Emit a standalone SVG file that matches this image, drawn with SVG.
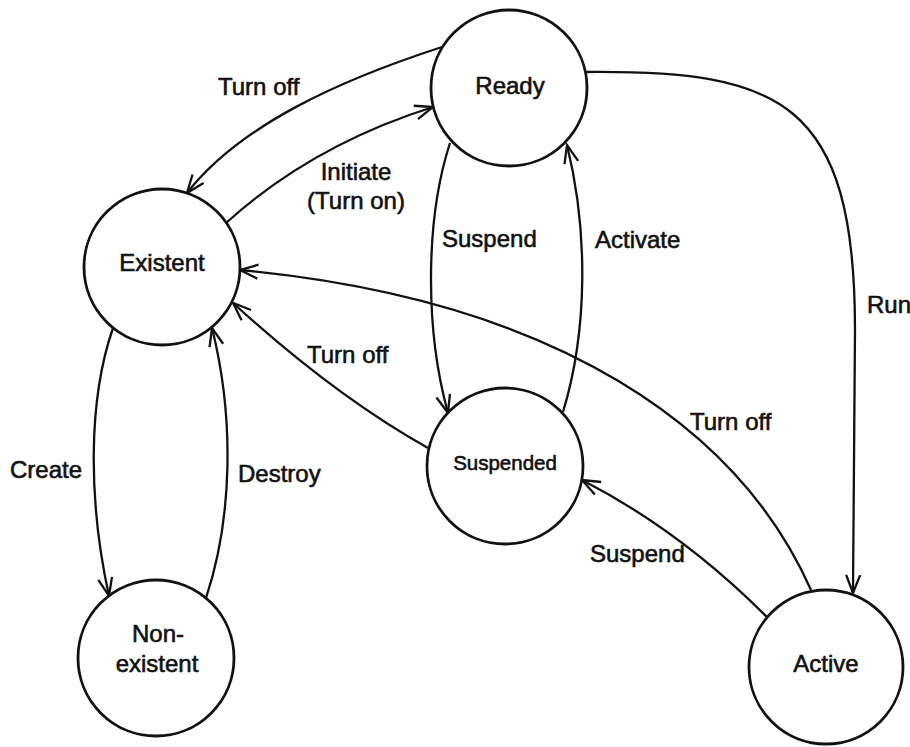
<svg xmlns="http://www.w3.org/2000/svg" width="910" height="747" viewBox="0 0 910 747">
<style>
  .node circle { fill: #fff; stroke: #111; stroke-width: 2.8; }
  .lbl { font-family: "Liberation Sans", Arial, sans-serif; font-size: 24px; fill: #111; stroke: #111; stroke-width: 0.6; }
  .mid { text-anchor: middle; }
  .edge { fill: none; stroke: #111; stroke-width: 2.3; marker-end: url(#arr); }
</style>
<defs>
  <marker id="arr" markerUnits="userSpaceOnUse" markerWidth="22" markerHeight="18" viewBox="0 0 22 18" refX="20" refY="9" orient="auto">
    <path d="M2,2 L20,9 L2,16" fill="none" stroke="#111" stroke-width="2.3"/>
  </marker>
</defs>
<rect width="910" height="747" fill="#fff"/>
<g id="connectors">
  <path class="edge" d="M442,47 C340,80 240,125 187,193"/>
  <path class="edge" d="M226,223 C290,165 360,130 433,107"/>
  <path class="edge" d="M450,143 C425,220 425,330 448,413"/>
  <path class="edge" d="M563,412 C588,330 588,230 567,145"/>
  <path class="edge" d="M585,72 C780,70 855,100 855,330 L853,593"/>
  <path class="edge" d="M811,590 C740,430 560,300 240,270"/>
  <path class="edge" d="M428,448 C360,410 290,355 233,303"/>
  <path class="edge" d="M113,328 C88,400 88,500 109,596"/>
  <path class="edge" d="M206,598 C232,520 235,420 212,328"/>
  <path class="edge" d="M767,617 C720,570 660,520 582,480"/>
</g>
<g id="edge-labels">
  <text class="lbl" x="218" y="95">Turn off</text>
  <text class="lbl mid" x="356" y="180">Initiate</text>
  <text class="lbl mid" x="356" y="209">(Turn on)</text>
  <text class="lbl" x="442" y="247">Suspend</text>
  <text class="lbl" x="595" y="248">Activate</text>
  <text class="lbl" x="867" y="313">Run</text>
  <text class="lbl" x="307" y="363">Turn off</text>
  <text class="lbl" x="690" y="430">Turn off</text>
  <text class="lbl" x="590" y="562">Suspend</text>
  <text class="lbl" x="10" y="478">Create</text>
  <text class="lbl" x="238" y="482">Destroy</text>
</g>
<g id="node-ready" class="node">
  <circle cx="509" cy="88" r="78"/>
  <text class="lbl mid" x="510" y="94">Ready</text>
</g>
<g id="node-existent" class="node">
  <circle cx="162" cy="267" r="78"/>
  <text class="lbl mid" x="162" y="271">Existent</text>
</g>
<g id="node-suspended" class="node">
  <circle cx="505" cy="466" r="78"/>
  <text class="lbl mid" x="505" y="470" style="font-size:20.5px">Suspended</text>
</g>
<g id="node-nonexistent" class="node">
  <circle cx="156" cy="658" r="78"/>
  <text class="lbl mid" x="158" y="642">Non-</text>
  <text class="lbl mid" x="157" y="672">existent</text>
</g>
<g id="node-active" class="node">
  <circle cx="826" cy="667" r="77"/>
  <text class="lbl mid" x="826" y="672">Active</text>
</g>
</svg>
